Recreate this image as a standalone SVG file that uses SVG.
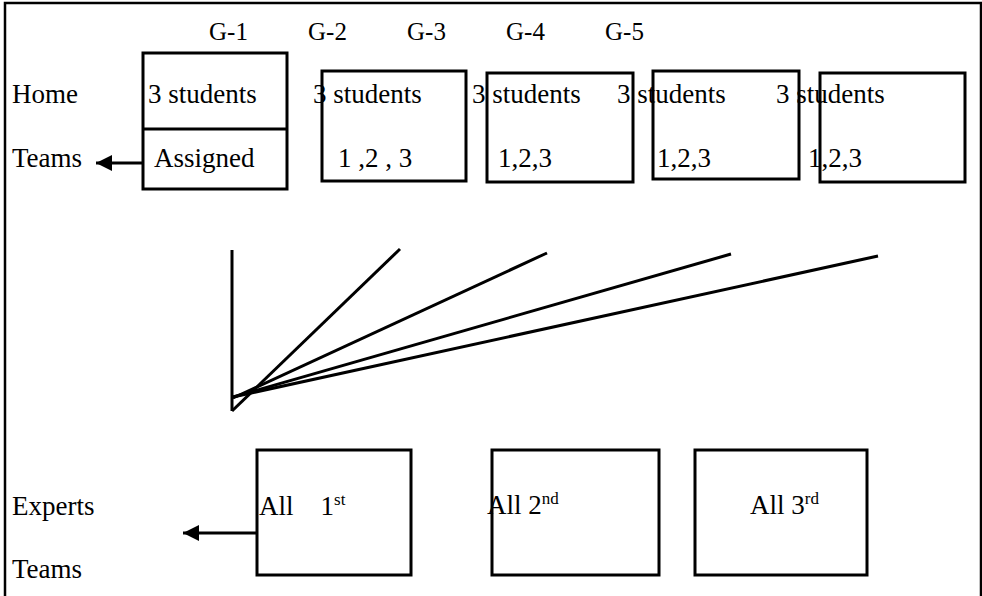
<svg xmlns="http://www.w3.org/2000/svg" width="982" height="596" viewBox="0 0 982 596">
<defs>
<style>
text{font-family:'Liberation Serif','DejaVu Serif',serif;font-size:27px;fill:#000}
.g{font-size:25px}
.sup{font-size:17px}
.box{fill:none;stroke:#000;stroke-width:3}
.ln{stroke:#000;stroke-width:3;fill:none}
</style>
<marker id="ah" viewBox="0 0 10 10" refX="10" refY="5" markerWidth="16" markerHeight="16" markerUnits="userSpaceOnUse" orient="auto"><path d="M0,0 L10,5 L0,10 z" fill="#000"/></marker>
</defs>
<rect width="982" height="596" fill="#fff"/>
<rect x="5" y="3" width="976" height="600" fill="none" stroke="#000" stroke-width="2.5"/>
<g id="labels" font-family="Liberation Serif, DejaVu Serif, serif">
<text x="12" y="103">Home</text>
<text x="12" y="167">Teams</text>
<text x="12" y="515">Experts</text>
<text x="12" y="578">Teams</text>
<text class="g" x="209" y="40">G-1</text>
<text class="g" x="308" y="40">G-2</text>
<text class="g" x="407" y="40">G-3</text>
<text class="g" x="506" y="40">G-4</text>
<text class="g" x="605" y="40">G-5</text>
</g>
<g id="g1">
<rect class="box" x="143" y="53" width="144" height="136"/>
<line class="ln" x1="143" y1="129" x2="287" y2="129"/>
<text x="148" y="103">3 students</text>
<text x="154" y="167">Assigned</text>
</g>
<g id="g2">
<rect class="box" x="322" y="71" width="144" height="110"/>
<text x="313" y="103">3 students</text>
<text x="338" y="167">1 ,2 , 3</text>
</g>
<g id="g3">
<rect class="box" x="487" y="73" width="146" height="109"/>
<text x="472" y="103">3 students</text>
<text x="498" y="167">1,2,3</text>
</g>
<g id="g4">
<rect class="box" x="653" y="71" width="146" height="108"/>
<text x="617" y="103">3 students</text>
<text x="657" y="167">1,2,3</text>
</g>
<g id="g5">
<rect class="box" x="820" y="73" width="145" height="109"/>
<text x="776" y="103">3 students</text>
<text x="808" y="167">1,2,3</text>
</g>
<g id="e1">
<rect class="box" x="257" y="450" width="154" height="125"/>
<text x="259" y="515">All<tspan dx="27">1</tspan><tspan class="sup" dy="-10">st</tspan></text>
</g>
<g id="e2">
<rect class="box" x="492" y="450" width="167" height="125"/>
<text x="487" y="514">All 2<tspan class="sup" dy="-10">nd</tspan></text>
</g>
<g id="e3">
<rect class="box" x="695" y="450" width="172" height="125"/>
<text x="750" y="514">All 3<tspan class="sup" dy="-10">rd</tspan></text>
</g>
<g id="connectors">
<line class="ln" x1="143" y1="163" x2="96" y2="163" marker-end="url(#ah)"/>
<line class="ln" x1="257" y1="533" x2="183" y2="533" marker-end="url(#ah)"/>
<line class="ln" x1="232" y1="250" x2="232" y2="411"/>
<line class="ln" x1="232" y1="411" x2="400" y2="249"/>
<line class="ln" x1="233" y1="398" x2="547" y2="253"/>
<line class="ln" x1="233" y1="397" x2="731" y2="254"/>
<line class="ln" x1="233" y1="397" x2="878" y2="256"/>
</g>
</svg>
